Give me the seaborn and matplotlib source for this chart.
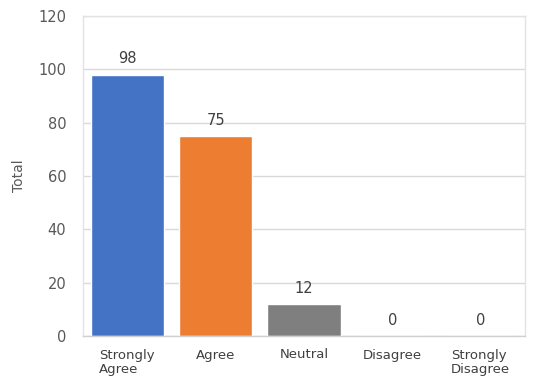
import matplotlib
matplotlib.use("Agg")
import matplotlib.pyplot as plt
import seaborn as sns
import pandas as pd

categories = ["Strongly\nAgree", "Agree", "Neutral", "Disagree", "Strongly\nDisagree"]
totals = [98, 75, 12, 0, 0]
bar_colors = ["#4472C4", "#ED7D31", "#7F7F7F", "#FFC000", "#5B9BD5"]
y_ticks = [0, 20, 40, 60, 80, 100, 120]

sns.set_theme(style="white")
plt.rcParams["font.family"] = ["DejaVu Sans"]

df = pd.DataFrame({"category": categories, "total": totals})

fig = plt.figure(figsize=(5.36, 3.79), dpi=100)
ax = fig.add_axes([83 / 536, 1 - 336 / 379, (525 - 83) / 536, (336 - 16) / 379])

sns.barplot(data=df, x="category", y="total", hue="category", palette=bar_colors,
            legend=False, width=0.83, saturation=1, ax=ax)

ax.set_ylim(0, 120)
ax.set_yticks(y_ticks)
ax.yaxis.grid(True, color="#D9D9D9", linewidth=1)
ax.set_axisbelow(True)

for side in ["left", "top", "right"]:
    ax.spines[side].set_color("#E3E3E3")
    ax.spines[side].set_linewidth(1)
ax.spines["bottom"].set_color("#D0D0D0")
ax.spines["bottom"].set_linewidth(1)

ax.tick_params(axis="y", length=0, pad=12, labelsize=10.5, labelcolor="#595959")
ax.tick_params(axis="x", length=0, pad=9, labelsize=9.5, labelcolor="#404040")
for lbl in ax.get_xticklabels():
    lbl.set_multialignment("left")
    lbl.set_verticalalignment("top")
    lbl.set_linespacing(1.15)

ax.set_xlabel("")
ax.set_ylabel("Total", fontsize=10, color="#595959", labelpad=9)

for i, v in enumerate(totals):
    ax.annotate(str(v), (i, v), xytext=(0, 6), textcoords="offset points",
                ha="center", va="bottom", fontsize=10.5, color="#404040")

fig.savefig("out.png", dpi=100, facecolor="white")
